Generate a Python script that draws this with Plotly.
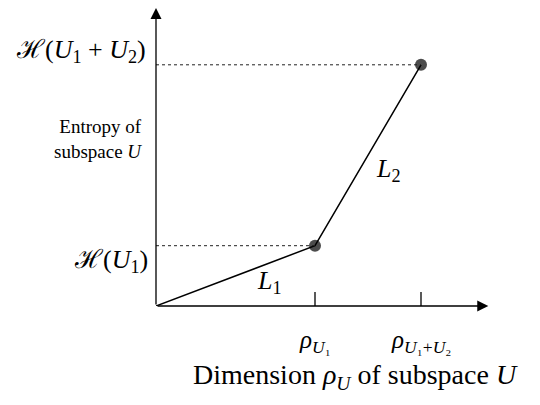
import plotly.graph_objects as go

# dimension rho_U and entropy H(U) at origin, U1, U1+U2
dims = [0, 3, 5]
entropy = [0, 1, 4]
tick_vals = [3, 5]
tick_text = ["<i>ρ</i><sub><i>U</i>₁</sub>", "<i>ρ</i><sub><i>U</i>₁+<i>U</i>₂</sub>"]
level_text = ["ℋ(<i>U</i><sub>1</sub>)",
              "ℋ(<i>U</i><sub>1</sub>&nbsp;+&nbsp;<i>U</i><sub>2</sub>)"]
segment_text = ["<i>L</i><sub>1</sub>", "<i>L</i><sub>2</sub>"]

SERIF = "Liberation Serif, DejaVu Serif, serif"
PX_X, PX_Y = 53, 60.3  # pixels per data unit
# the page body has an 8px margin, so the figure is a bit smaller
L, B, W, H = 148, 99, 532, 397

fig = go.Figure()

# dotted guides from y axis to the points
for x, y in zip(dims[1:], entropy[1:]):
    fig.add_shape(type="line", x0=0, x1=x, y0=y, y1=y,
                  line=dict(color="#222", width=1, dash="dot"))

# ticks crossing the x axis
for x in tick_vals:
    fig.add_shape(type="line", x0=x, x1=x, y0=-14 / PX_Y, y1=14 / PX_Y,
                  line=dict(color="black", width=1.3))

fig.add_trace(go.Scatter(
    x=dims, y=entropy, mode="lines+markers",
    line=dict(color="black", width=1.5),
    marker=dict(color="black", size=[0, 12, 12], line=dict(width=0)),
    cliponaxis=False, hoverinfo="skip", showlegend=False,
))

# axes with arrow heads
for tip in [(6.27, 0), (0, (H - B) / PX_Y)]:
    fig.add_annotation(x=tip[0], y=tip[1], ax=0, ay=0, axref="x", ayref="y",
                       text="", showarrow=True, arrowhead=2, arrowsize=1.7,
                       arrowwidth=1.3, arrowcolor="black", standoff=0)

font_big = dict(family=SERIF, size=26, color="black")

# level labels on the y axis
fig.add_annotation(x=0, y=entropy[1], text=level_text[0], showarrow=False,
                   xanchor="right", xshift=-6, yshift=-15, font=font_big)
fig.add_annotation(x=0, y=entropy[2], text=level_text[1], showarrow=False,
                   xanchor="right", xshift=-8, yshift=14, font=font_big)

fig.add_annotation(x=0, y=2.77, text="Entropy of<br>subspace <i>U</i>",
                   showarrow=False, xanchor="right", align="right", xshift=-12,
                   font=dict(family=SERIF, size=19, color="black"))

# segment labels
fig.add_annotation(x=2.15, y=0.40, text=segment_text[0], showarrow=False, font=font_big)
fig.add_annotation(x=4.38, y=2.26, text=segment_text[1], showarrow=False, font=font_big)

# tick labels
for x, t in zip(tick_vals, tick_text):
    fig.add_annotation(x=x, y=0, text=t, showarrow=False, yshift=-35,
                       font=dict(family=SERIF, size=25, color="black"))

fig.add_annotation(x=6.87, y=0, text="Dimension <i>ρ<sub>U</sub></i> of subspace <i>U</i>",
                   showarrow=False, xanchor="right", yshift=-70,
                   font=dict(family=SERIF, size=28, color="black"))

fig.update_layout(
    width=W, height=H,
    margin=dict(l=L, r=0, t=0, b=B),
    plot_bgcolor="white", paper_bgcolor="white",
    xaxis=dict(range=[0, (W - L) / PX_X], visible=False),
    yaxis=dict(range=[0, (H - B) / PX_Y], visible=False),
)

fig.write_html("out.html")
